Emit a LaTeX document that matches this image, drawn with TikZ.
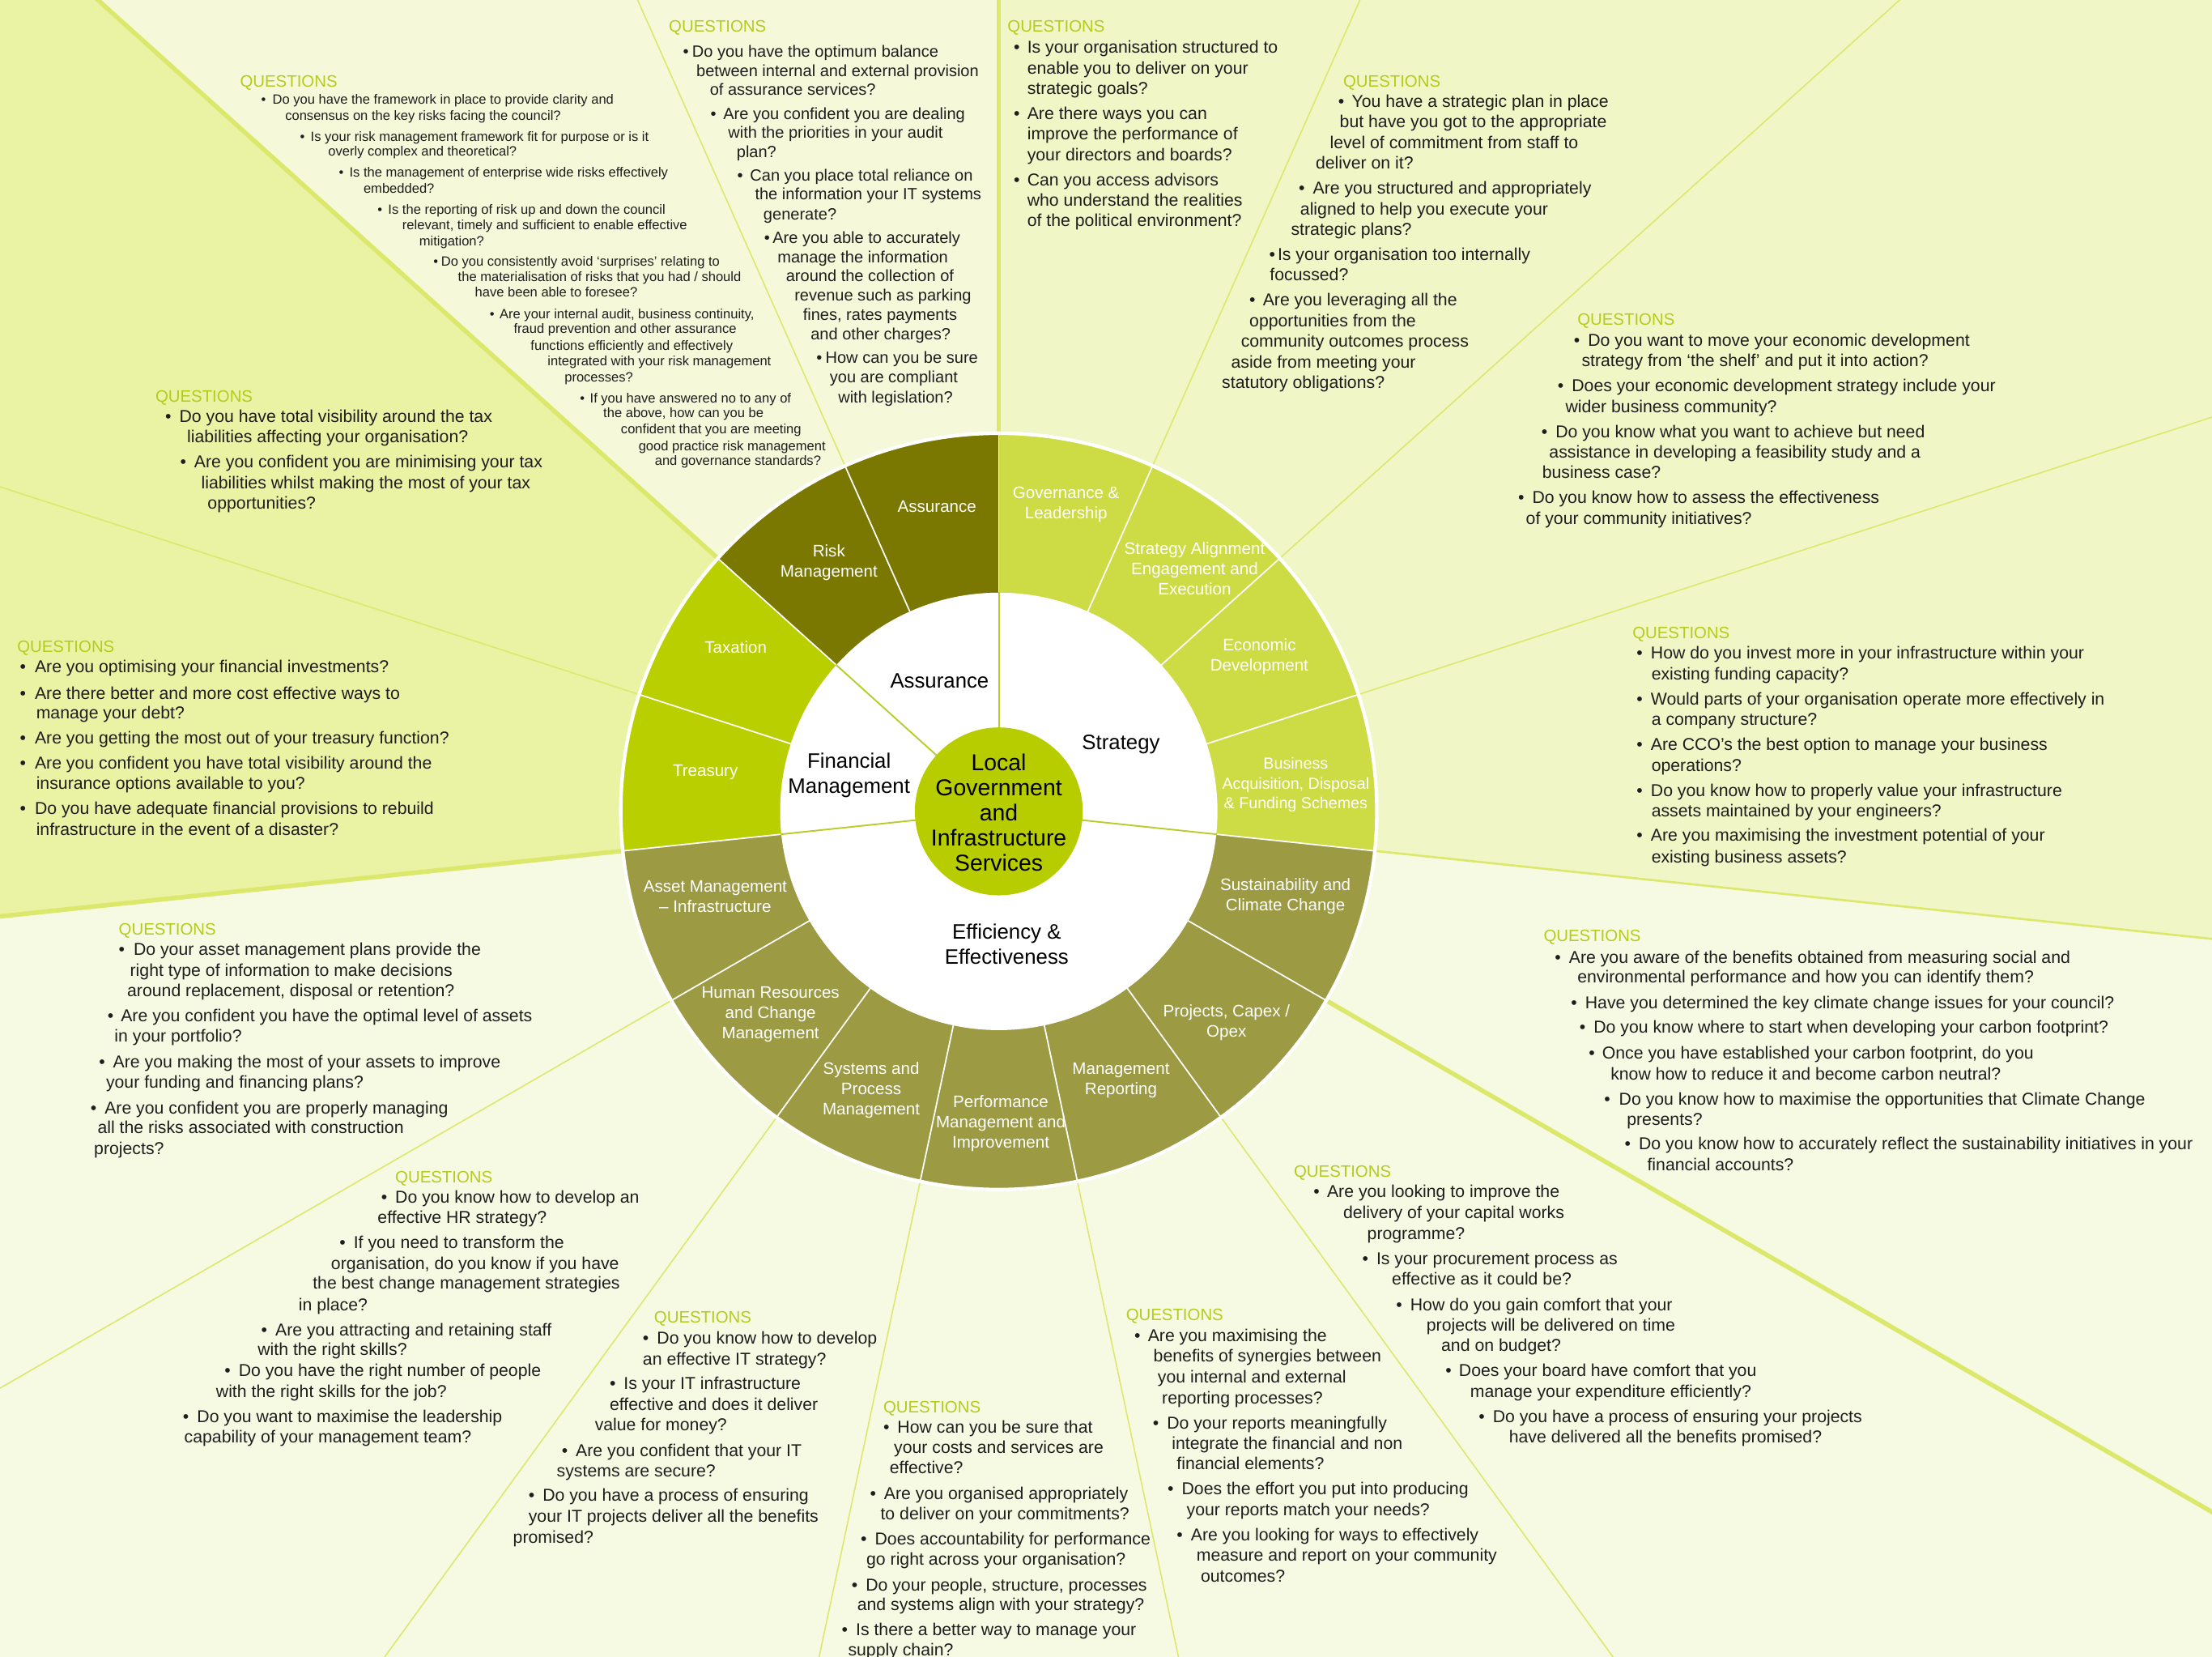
\documentclass[tikz,border=0pt]{standalone}
\usepackage{fontspec}
\setmainfont{Liberation Sans}
\definecolor{strbg}{HTML}{F0F6C6}
\definecolor{effbg}{HTML}{F7FAE2}
\definecolor{finbg}{HTML}{EAF2A4}
\definecolor{assbg}{HTML}{F5F9DA}
\definecolor{strc}{HTML}{CDDC45}
\definecolor{effc}{HTML}{9C9A42}
\definecolor{finc}{HTML}{B9CF00}
\definecolor{assc}{HTML}{7A7800}
\definecolor{centc}{HTML}{B8CD00}
\definecolor{bgline}{HTML}{DCE86C}
\definecolor{innerl}{HTML}{B9CD2A}
\definecolor{qcol}{HTML}{B5CB1E}
\definecolor{txt}{HTML}{1E1E1E}
\newcounter{qn}
\newcommand\qLine[3]{\stepcounter{qn}\node[ql] (l\arabic{qn}) at (#1,#2) {#3};}
\newcommand\qBul[4]{\stepcounter{qn}\node[qbul] (b\arabic{qn}) at (#1,#3) {\textbullet};\node[ql] (l\arabic{qn}) at (#2,#3) {#4};}
\newcommand\qHead[2]{\stepcounter{qn}\node[qh] (h\arabic{qn}) at (#1,#2) {QUESTIONS};}
\begin{document}
\begin{tikzpicture}[x=1pt,y=-1pt,
  qtext/.style={font=\fontsize{12.2}{14.6}\selectfont},
  ql/.style={anchor=mid west, inner sep=0pt, yshift=-1.8pt, text=txt, qtext},
  qbul/.style={anchor=mid west, inner sep=0pt, yshift=-1.8pt, text=txt, qtext},
  qh/.style={anchor=mid west, inner sep=0pt, yshift=-1.8pt, text=qcol, font=\fontsize{11.7}{14}\selectfont},
  seg/.style={align=center, text=white, inner sep=0pt, font=\fontsize{11.8}{14.4}\selectfont},
  qinner/.style={align=center, text=black, inner sep=0pt, font=\fontsize{14.8}{17.6}\selectfont},
  cent/.style={align=center, text=black, inner sep=0pt, font=\fontsize{16.3}{17.8}\selectfont}]
\useasboundingbox (0,0) rectangle (1568,1173.7);
\fill[effbg] (0,0) rectangle (1568,1173.7);
\begin{scope}
\clip (0,0) rectangle (1568,1173.7);
\begin{scope}[shift={(708,575)}]
\foreach \k/\c in {0/strbg,1/strbg,2/strbg,3/strbg,4/effbg,5/effbg,6/effbg,7/effbg,8/effbg,9/effbg,10/effbg,11/finbg,12/finbg,13/assbg,14/assbg}
  {\fill[\c] (0,0) -- ({-90+24*\k}:3000) -- ({-90+24*(\k+1)}:3000) -- cycle;}
\foreach \k/\w in {0/3.2pt,1/0.9pt,2/0.9pt,3/0.9pt,4/1.5pt,5/3.2pt,6/0.9pt,7/0.9pt,8/0.9pt,9/0.9pt,10/0.9pt,11/3.2pt,12/0.9pt,13/3.2pt,14/0.9pt}
  {\draw[bgline, line width=\w] (0,0) -- ({-90+24*\k}:3000);}
\end{scope}
\end{scope}
% ring
\begin{scope}[shift={(708,575)}]
\begin{scope}
\clip (0,0) circle[radius=268];
\foreach \k/\c in {0/strc,1/strc,2/strc,3/strc,4/effc,5/effc,6/effc,7/effc,8/effc,9/effc,10/effc,11/finc,12/finc,13/assc,14/assc}
  {\fill[\c] (0,0) -- ({-90+24*\k}:420) -- ({-90+24*(\k+1)}:420) -- cycle;}
\end{scope}
\foreach \k in {0,...,14} {\draw[white, line width=1pt] ({-90+24*\k}:150) -- ({-90+24*\k}:269);}
\draw[white, line width=2.5pt] (0,0) circle[radius=268];
\fill[white] (0,0) circle[radius=155];
\foreach \a in {-90,-138,-186,6} {\draw[innerl, line width=1.1pt] (\a:55) -- (\a:155.5);}
\fill[centc] (0,0) circle[radius=59.5];
\end{scope}
% segment labels
\node[seg] (sAss) at (664.2,359) {Assurance};
\node[seg] (sRisk) at (587.6,398.5) {Risk\\Management};
\node[seg] (sTax) at (521.5,458.4) {Taxation};
\node[seg] (sTre) at (500,547) {Treasury};
\node[seg] (sAsset) at (507,635.1) {Asset Management\\– Infrastructure};
\node[seg] (sHR) at (546.2,719.1) {Human Resources\\and Change\\Management};
\node[seg] (sSys) at (617.6,772.5) {Systems and\\Process\\Management};
\node[seg] (sPerf) at (709.4,796) {Performance\\Management and\\Improvement};
\node[seg] (sMR) at (794.6,765.5) {Management\\Reporting};
\node[seg] (sProj) at (869.4,724.7) {Projects, Capex /\\Opex};
\node[seg] (sSus) at (911.2,635.1) {Sustainability and\\Climate Change};
\node[seg, font=\fontsize{11.3}{14.1}\selectfont] (sBus) at (918.5,556.1) {Business\\Acquisition, Disposal\\\& Funding Schemes};
\node[seg] (sEco) at (892.7,465.2) {Economic\\Development};
\node[seg] (sStrA) at (846.8,403.2) {Strategy Alignment\\Engagement and\\Execution};
\node[seg] (sGov) at (755.7,357.7) {Governance \&\\Leadership};
\node[qinner] (iAss) at (666,482.5) {Assurance};
\node[qinner] (iFin) at (601.9,549.6) {Financial\\Management};
\node[qinner] (iStr) at (794.6,527.8) {Strategy};
\node[qinner] (iEff) at (713.6,669) {Efficiency \&\\Effectiveness};
\node[cent] (cLG) at (708,576) {Local\\Government\\and\\Infrastructure\\Services};
% Risk management questions (small)
\begin{scope}[qtext/.style={font=\fontsize{9.5}{11}\selectfont}]
\qHead{170}{57}
\qBul{185}{193}{69.5}{Do you have the framework in place to provide clarity and}
\qLine{202}{81}{consensus on the key risks facing the council?}
\qBul{212.5}{220}{95.5}{Is your risk management framework fit for purpose or is it}
\qLine{232.5}{106.3}{overly complex and theoretical?}
\qBul{240}{247.5}{121.2}{Is the management of enterprise wide risks effectively}
\qLine{257.5}{132.3}{embedded?}
\qBul{267.5}{275}{147.2}{Is the reporting of risk up and down the council}
\qLine{285}{158}{relevant, timely and sufficient to enable effective}
\qLine{297}{169.6}{mitigation?}
\qBul{307}{312.5}{184}{Do you consistently avoid ‘surprises’ relating to}
\qLine{324.5}{195.2}{the materialisation of risks that you had / should}
\qLine{336.5}{206}{have been able to foresee?}
\qBul{347}{354}{221.3}{Are your internal audit, business continuity,}
\qLine{364}{232}{fraud prevention and other assurance}
\qLine{376}{243.6}{functions efficiently and effectively}
\qLine{388}{254.8}{integrated with your risk management}
\qLine{400}{265.9}{processes?}
\qBul{411}{418}{280.8}{If you have answered no to any of}
\qLine{427.5}{291.6}{the above, how can you be}
\qLine{440}{303.1}{confident that you are meeting}
\qLine{452.5}{314.7}{good practice risk management}
\qLine{464}{325.5}{and governance standards?}
\end{scope}
% Assurance questions
\begin{scope}[qtext/.style={font=\fontsize{11.5}{13.7}\selectfont}]
\qHead{474}{18}
\qBul{484}{490.5}{36}{Do you have the optimum balance}
\qLine{493.5}{49.6}{between internal and external provision}
\qLine{503}{62.9}{of assurance services?}
\qBul{503.5}{512.5}{80.2}{Are you confident you are dealing}
\qLine{516}{93.5}{with the priorities in your audit}
\qLine{522}{107.1}{plan?}
\qBul{522.5}{531.5}{123.7}{Can you place total reliance on}
\qLine{535}{137.3}{the information your IT systems}
\qLine{541}{151.4}{generate?}
\qBul{541.5}{547.5}{167.9}{Are you able to accurately}
\qLine{551}{181.6}{manage the information}
\qLine{557}{195.2}{around the collection of}
\qLine{563}{208.9}{revenue such as parking}
\qLine{569}{222.5}{fines, rates payments}
\qLine{574.5}{236.2}{and other charges?}
\qBul{578.5}{585}{252.7}{How can you be sure}
\qLine{588}{266.8}{you are compliant}
\qLine{594}{280.8}{with legislation?}
\end{scope}
% Governance
\qHead{714}{18}
\qBul{718.5}{728}{33}{Is your organisation structured to}
\qLine{728}{48}{enable you to deliver on your}
\qLine{728}{62.5}{strategic goals?}
\qBul{718.5}{728}{80}{Are there ways you can}
\qLine{728}{94.7}{improve the performance of}
\qLine{728}{109.4}{your directors and boards?}
\qBul{718.5}{728}{127}{Can you access advisors}
\qLine{728}{141.4}{who understand the realities}
\qLine{728}{156.2}{of the political environment?}
% Strategy alignment
\qHead{952}{57}
\qBul{948.5}{958}{71.5}{You have a strategic plan in place}
\qLine{949.5}{86}{but have you got to the appropriate}
\qLine{942.5}{100.9}{level of commitment from staff to}
\qLine{932.5}{115.4}{deliver on it?}
\qBul{920.5}{930.5}{133.2}{Are you structured and appropriately}
\qLine{921.5}{148}{aligned to help you execute your}
\qLine{915}{162.5}{strategic plans?}
\qBul{899.5}{905.5}{180.3}{Is your organisation too internally}
\qLine{900}{194.4}{focussed?}
\qBul{885.5}{895}{212.2}{Are you leveraging all the}
\qLine{885.5}{227}{opportunities from the}
\qLine{879.5}{241.5}{community outcomes process}
\qLine{872.5}{256.4}{aside from meeting your}
\qLine{866}{270.9}{statutory obligations?}
% Economic development
\qHead{1118}{226}
\qBul{1115.5}{1125.5}{241.1}{Do you want to move your economic development}
\qLine{1121}{255.2}{strategy from ‘the shelf’ and put it into action?}
\qBul{1104}{1114}{273}{Does your economic development strategy include your}
\qLine{1109.5}{287.8}{wider business community?}
\qBul{1092.5}{1102.5}{305.6}{Do you know what you want to achieve but need}
\qLine{1098}{320.1}{assistance in developing a feasibility study and a}
\qLine{1093}{334.6}{business case?}
\qBul{1076}{1086}{352.4}{Do you know how to assess the effectiveness}
\qLine{1081.5}{367.2}{of your community initiatives?}
% Business acquisition
\qHead{1157}{448}
\qBul{1160}{1170}{462.4}{How do you invest more in your infrastructure within your}
\qLine{1170.5}{477.3}{existing funding capacity?}
\qBul{1160}{1170}{495}{Would parts of your organisation operate more effectively in}
\qLine{1170.5}{509.5}{a company structure?}
\qBul{1160}{1170}{527.3}{Are CCO’s the best option to manage your business}
\qLine{1170.5}{542.2}{operations?}
\qBul{1160}{1170}{560}{Do you know how to properly value your infrastructure}
\qLine{1170.5}{574.4}{assets maintained by your engineers?}
\qBul{1160}{1170}{591.8}{Are you maximising the investment potential of your}
\qLine{1170.5}{607.1}{existing business assets?}
% Sustainability
\qHead{1094}{662.8}
\qBul{1102}{1112}{678.1}{Are you aware of the benefits obtained from measuring social and}
\qLine{1118}{692.3}{environmental performance and how you can identify them?}
\qBul{1113.5}{1123.5}{710.2}{Have you determined the key climate change issues for your council?}
\qBul{1119.5}{1129.5}{727.8}{Do you know where to start when developing your carbon footprint?}
\qBul{1126}{1135.5}{745.8}{Once you have established your carbon footprint, do you}
\qLine{1141.5}{760.8}{know how to reduce it and become carbon neutral?}
\qBul{1137}{1147.5}{778.7}{Do you know how to maximise the opportunities that Climate Change}
\qLine{1153}{792.9}{presents?}
\qBul{1151.5}{1161.5}{810.5}{Do you know how to accurately reflect the sustainability initiatives in your}
\qLine{1167.5}{825.4}{financial accounts?}
% Projects
\qHead{917}{829.6}
\qBul{931}{940.5}{844.2}{Are you looking to improve the}
\qLine{952}{859.1}{delivery of your capital works}
\qLine{969}{873.7}{programme?}
\qBul{965.5}{975.5}{891.6}{Is your procurement process as}
\qLine{986.5}{906.2}{effective as it could be?}
\qBul{989.5}{999.5}{924.2}{How do you gain comfort that your}
\qLine{1011}{938.7}{projects will be delivered on time}
\qLine{1021.5}{952.9}{and on budget?}
\qBul{1024.5}{1034}{970.9}{Does your board have comfort that you}
\qLine{1042}{985.8}{manage your expenditure efficiently?}
\qBul{1048}{1058}{1003.4}{Do you have a process of ensuring your projects}
\qLine{1069.5}{1017.9}{have delivered all the benefits promised?}
% Management reporting
\qHead{798}{931.4}
\qBul{804}{813.5}{946}{Are you maximising the}
\qLine{817.5}{960.9}{benefits of synergies between}
\qLine{820.5}{975.5}{you internal and external}
\qLine{823.5}{990.4}{reporting processes?}
\qBul{817}{827}{1008}{Do your reports meaningfully}
\qLine{830.5}{1022.5}{integrate the financial and non}
\qLine{834}{1036.7}{financial elements?}
\qBul{827.5}{837.5}{1054.7}{Does the effort you put into producing}
\qLine{841}{1069.6}{your reports match your needs?}
\qBul{834}{844}{1087.2}{Are you looking for ways to effectively}
\qLine{848}{1101.7}{measure and report on your community}
\qLine{851}{1116.7}{outcomes?}
% Performance
\qHead{626}{996.5}
\qBul{626}{636}{1011}{How can you be sure that}
\qLine{633.5}{1025.6}{your costs and services are}
\qLine{630.5}{1040.1}{effective?}
\qBul{616.5}{626.5}{1058.1}{Are you organised appropriately}
\qLine{624}{1072.7}{to deliver on your commitments?}
\qBul{610}{620}{1090.3}{Does accountability for performance}
\qLine{614}{1104.8}{go right across your organisation?}
\qBul{603.5}{613.5}{1122.8}{Do your people, structure, processes}
\qLine{607.5}{1137}{and systems align with your strategy?}
\qBul{596.5}{606.5}{1154.6}{Is there a better way to manage your}
\qLine{601}{1169.1}{supply chain?}
% Systems
\qHead{463.5}{933}
\qBul{455.5}{465.5}{947.9}{Do you know how to develop}
\qLine{455.5}{962.8}{an effective IT strategy?}
\qBul{432}{442}{980.4}{Is your IT infrastructure}
\qLine{432}{995}{effective and does it deliver}
\qLine{421.5}{1009.5}{value for money?}
\qBul{398}{408}{1027.5}{Are you confident that your IT}
\qLine{394.5}{1042}{systems are secure?}
\qBul{374.5}{384.5}{1059.6}{Do you have a process of ensuring}
\qLine{374.5}{1074.2}{your IT projects deliver all the benefits}
\qLine{363.5}{1089.1}{promised?}
% HR
\qHead{280}{833.5}
\qBul{270}{280}{848}{Do you know how to develop an}
\qLine{267.5}{862.2}{effective HR strategy?}
\qBul{240.5}{250.5}{880.2}{If you need to transform the}
\qLine{234.5}{895.1}{organisation, do you know if you have}
\qLine{221.5}{909.2}{the best change management strategies}
\qLine{211.5}{924.2}{in place?}
\qBul{185}{195}{942.2}{Are you attracting and retaining staff}
\qLine{182.5}{956.3}{with the right skills?}
\qBul{159}{169}{970.9}{Do you have the right number of people}
\qLine{153}{985.8}{with the right skills for the job?}
\qBul{129.5}{139.5}{1003.4}{Do you want to maximise the leadership}
\qLine{130.5}{1017.9}{capability of your management team?}
% Asset management
\qHead{84}{658.2}
\qBul{84}{94.5}{672.7}{Do your asset management plans provide the}
\qLine{92}{687.3}{right type of information to make decisions}
\qLine{90}{701.8}{around replacement, disposal or retention?}
\qBul{76}{85.5}{719.8}{Are you confident you have the optimal level of assets}
\qLine{81}{734}{in your portfolio?}
\qBul{70}{80}{752}{Are you making the most of your assets to improve}
\qLine{75}{766.9}{your funding and financing plans?}
\qBul{64}{74}{784.9}{Are you confident you are properly managing}
\qLine{69}{799}{all the risks associated with construction}
\qLine{66.5}{813.6}{projects?}
% Taxation
\qHead{110}{280.4}
\qBul{117}{127}{294.9}{Do you have total visibility around the tax}
\qLine{132.5}{309.3}{liabilities affecting your organisation?}
\qBul{127.5}{137.5}{327.1}{Are you confident you are minimising your tax}
\qLine{142.5}{342}{liabilities whilst making the most of your tax}
\qLine{147}{356.5}{opportunities?}
% Treasury
\qHead{12}{457.8}
\qBul{14}{24.5}{472.3}{Are you optimising your financial investments?}
\qBul{14}{24.5}{490.9}{Are there better and more cost effective ways to}
\qLine{25.5}{505}{manage your debt?}
\qBul{14}{24.5}{522.8}{Are you getting the most out of your treasury function?}
\qBul{14}{24.5}{540.5}{Are you confident you have total visibility around the}
\qLine{25.5}{555}{insurance options available to you?}
\qBul{14}{24.5}{572.8}{Do you have adequate financial provisions to rebuild}
\qLine{25.5}{587.3}{infrastructure in the event of a disaster?}
\end{tikzpicture}
\end{document}
